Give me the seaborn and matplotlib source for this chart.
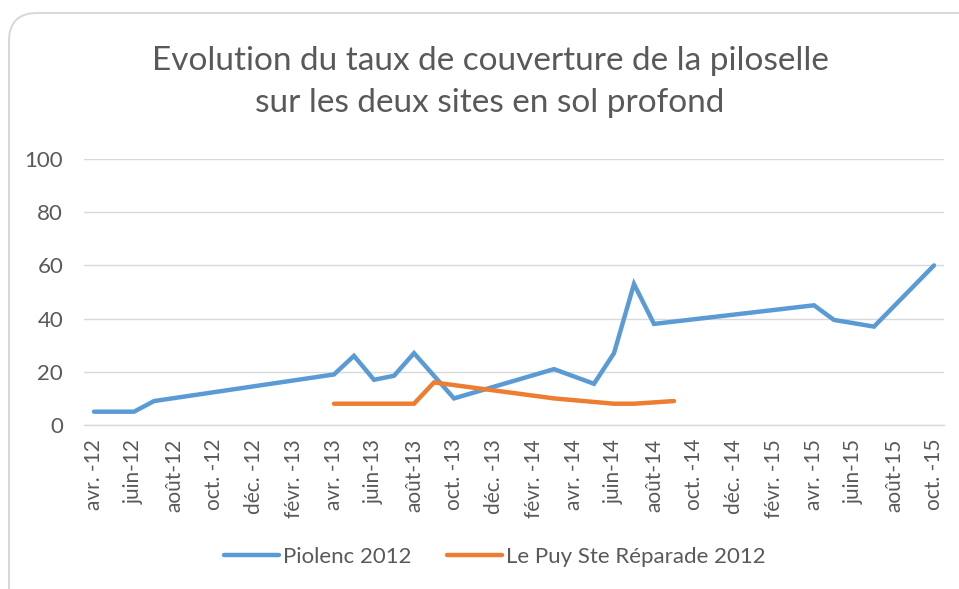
import pandas as pd
import seaborn as sns
import matplotlib.pyplot as plt
from matplotlib.patches import FancyBboxPatch

# Dates (month) and cover values
piolenc_dates = ["2012-04", "2012-06", "2012-07", "2013-04", "2013-05", "2013-06",
                 "2013-07", "2013-08", "2013-10", "2014-03", "2014-05", "2014-06",
                 "2014-07", "2014-08", "2015-04", "2015-05", "2015-07", "2015-10"]
piolenc_values = [5, 5, 9, 19, 26, 17, 18.5, 27, 10, 21, 15.5, 27, 53, 38, 45, 39.5, 37, 60]

puy_dates = ["2013-04", "2013-08", "2013-09", "2014-03", "2014-06", "2014-07", "2014-09"]
puy_values = [8, 8, 16, 10, 8, 8, 9]

series_names = ["Piolenc 2012", "Le Puy Ste Réparade 2012"]
series_colors = ["#5B9BD5", "#ED7D31"]

month_labels = ["avr.", "juin", "août", "oct.", "déc.", "févr."]
start = pd.Period("2012-04", freq="M")
end = pd.Period("2015-10", freq="M")

df = pd.concat([
    pd.DataFrame({"date": piolenc_dates, "taux": piolenc_values, "site": series_names[0]}),
    pd.DataFrame({"date": puy_dates, "taux": puy_values, "site": series_names[1]}),
])
df["mois"] = [(pd.Period(d, freq="M") - start).n for d in df["date"]]

sns.set_style("white")
plt.rcParams["font.family"] = ["Lato", "DejaVu Sans"]
grey = "#595959"

fig = plt.figure(figsize=(9.59, 5.89), dpi=100)
ax = fig.add_axes([84 / 959, 1 - 425 / 589, 860 / 959, 266 / 589])

sns.lineplot(data=df, x="mois", y="taux", hue="site", hue_order=series_names,
             palette=series_colors, linewidth=3.2, ax=ax, legend=False,
             solid_capstyle="round", solid_joinstyle="miter")

n_months = (end - start).n
ax.set_xlim(-0.5, n_months + 0.5)
ax.set_ylim(0, 100)
ax.set_yticks(range(0, 101, 20))
ax.yaxis.grid(True, color="#D9D9D9", linewidth=1)
ax.set_axisbelow(True)
for s in ["top", "right", "left"]:
    ax.spines[s].set_visible(False)
ax.spines["bottom"].set_color("#D9D9D9")
ax.spines["bottom"].set_linewidth(1)

# tick marks between months, labels at month centres
tick_pos = list(range(0, n_months + 1, 2))
labels = []
for i in tick_pos:
    p = start + i
    m = month_labels[(i // 2) % 6]
    sep = " -" if m.endswith(".") else "-"
    labels.append(f"{m}{sep}{str(p.year)[2:]}")
ax.set_xticks([t - 0.5 for t in tick_pos] + [n_months + 0.5])
ax.set_xticklabels([])
ax.set_xticks(tick_pos, minor=True)
ax.set_xticklabels(labels, minor=True, rotation=90)
ax.tick_params(axis="x", which="major", length=7, color="#D9D9D9", width=1, direction="out")
ax.tick_params(axis="x", which="minor", length=0, pad=10, labelsize=15, labelcolor=grey)
ax.tick_params(axis="y", length=0, pad=15, labelsize=16, labelcolor=grey)
ax.set_xlabel("")
ax.set_ylabel("")

title_font = dict(ha="center", va="center", fontsize=24, color=grey)
fig.text(0.511, 1 - 61 / 589, "Evolution du taux de couverture de la piloselle", **title_font)
fig.text(0.511, 1 - 103 / 589, "sur les deux sites en sol profond", **title_font)

handles = [plt.Line2D([], [], color=c, linewidth=3.2, solid_capstyle="round") for c in series_colors]
fig.legend(handles, series_names, loc="center", bbox_to_anchor=(494.5 / 959, 1 - 557 / 589),
           ncol=2, frameon=False, fontsize=16, labelcolor=grey, handlelength=2.5,
           handletextpad=0.15, columnspacing=1.6)

# rounded chart-area border (display coords, origin bottom-left)
border = FancyBboxPatch((9, -40), 990, 589 - 13 + 40, boxstyle="round,pad=0,rounding_size=28",
                        transform=None, facecolor="none", edgecolor="#D9D9D9",
                        linewidth=1.5, figure=fig)
fig.patches.append(border)

fig.savefig("out.png", dpi=100)
